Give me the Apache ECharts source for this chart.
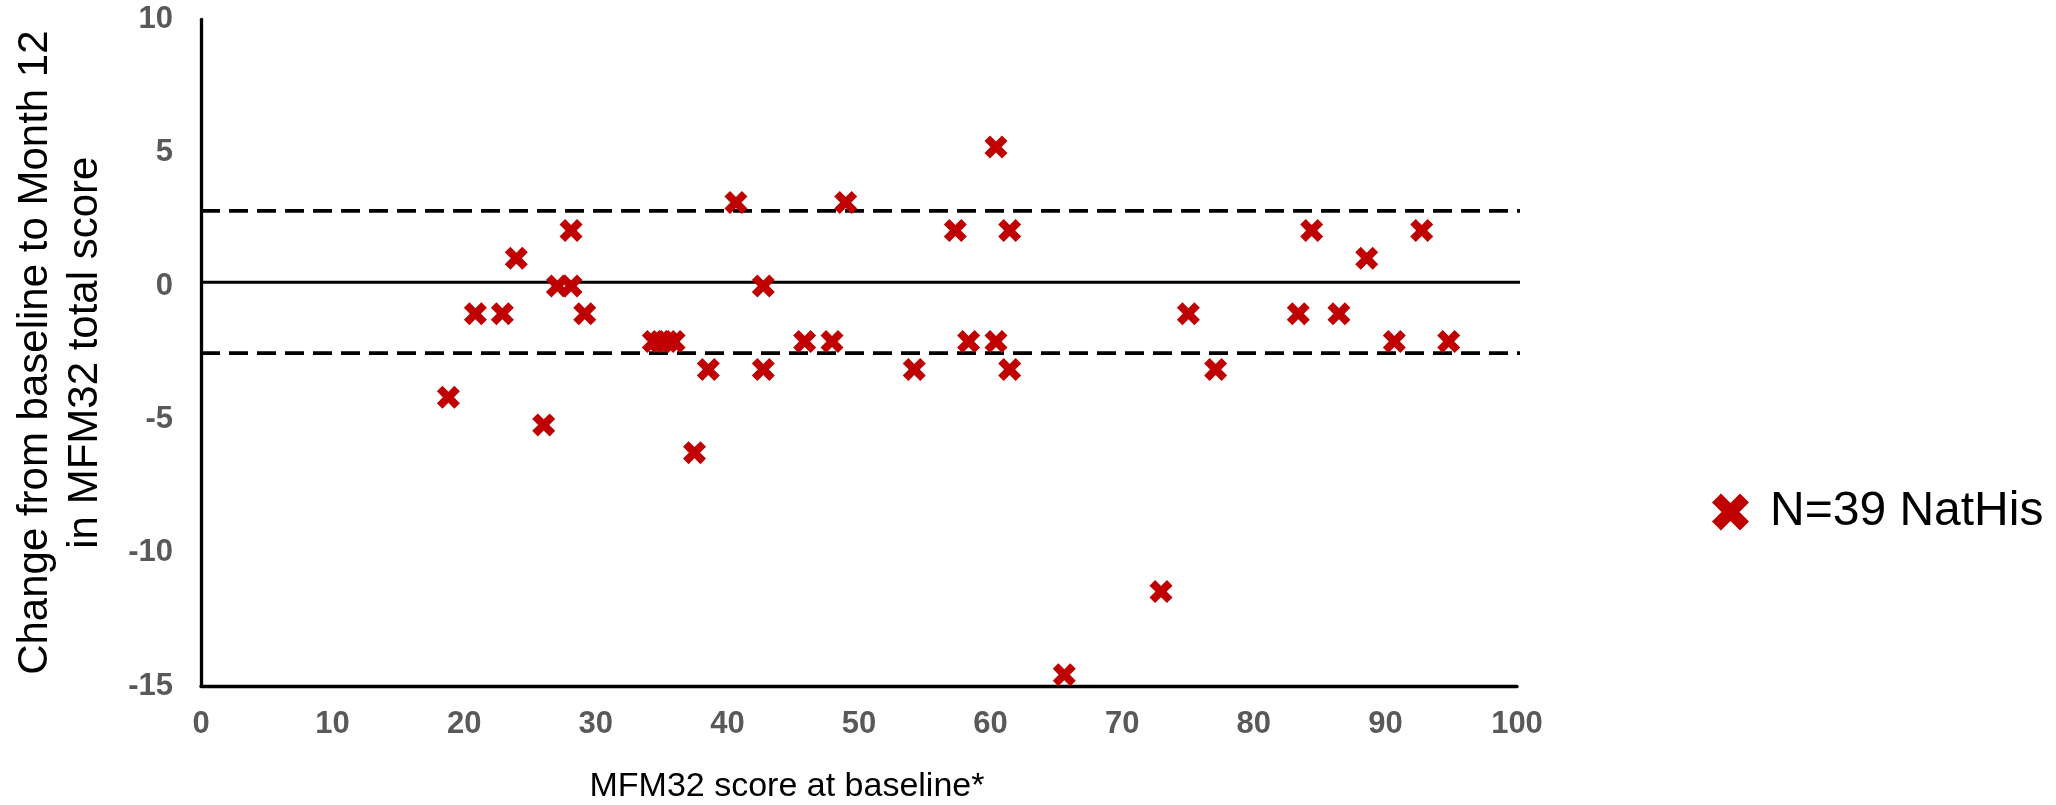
<!DOCTYPE html>
<html>
<head>
<meta charset="utf-8">
<script src="https://cdn.jsdelivr.net/npm/echarts@6/dist/echarts.min.js"></script>
<style>
  html, body { margin: 0; padding: 0; background: #fff; }
  #mfmChart { width: 2056px; height: 805px; }
</style>
</head>
<body>
<div id="mfmChart"></div>
<script>
// data define
var seriesName = 'N=39 NatHis'
var baselineScore = [18.8, 20.85, 22.9, 23.96, 26.04, 27.08, 28.12, 28.12, 29.16,
  34.37, 34.9, 35.43, 35.95, 37.5, 38.55, 40.65, 42.73, 42.73, 45.87, 47.95,
  48.99, 54.2, 57.32, 58.33, 60.41, 60.41, 61.45, 61.45, 65.6, 72.95,
  75.03, 77.1, 83.38, 84.4, 86.47, 88.58, 90.68, 92.76, 94.81]
var changeScore = [-4.17, -1.04, -1.04, 1.04, -5.21, 0, 0, 2.08, -1.04,
  -2.08, -2.08, -2.08, -2.08, -6.25, -3.13, 3.13, 0, -3.13, -2.08, -2.08,
  3.13, -3.13, 2.08, -2.08, 5.21, -2.08, 2.08, -3.13, -14.58, -11.46,
  -1.04, -3.13, -1.04, 2.08, -1.04, 1.04, -2.08, 2.08, -2.08]
var refLevels = [2.82, 0.14, -2.52]
var refLabels = ['+3', '', '-3']
var refSpan = [0, 102.4]
var xTicks = [0, 100, 10]
var yTicks = [-15, 10, 5]

var fontName = '"Liberation Sans", Arial, sans-serif'
var crossIcon = 'path://M0,2.9L2.9,0L6,3.1L9.1,0L12,2.9L8.9,6L12,9.1L9.1,12L6,8.9L2.9,12L0,9.1L3.1,6Z'

// charts locate
var chartElement = document.getElementById('mfmChart')
var mfmChart = echarts.init(chartElement)

// build point list
var points = []
for (var i = 0; i < baselineScore.length; i++) {
  points.push([baselineScore[i], changeScore[i]])
}

// reference lines (+3 / 0 / -3)
var refSeries = refLevels.map(function (lvl, idx) {
  return {
    type: 'line',
    silent: true,
    clip: false,
    symbol: 'none',
    z: 1,
    lineStyle: {
      color: '#000',
      width: idx === 1 ? 3.2 : 3.8,
      type: idx === 1 ? 'solid' : [19, 9]
    },
    data: [
      [refSpan[0], lvl],
      {
        value: [refSpan[1], lvl],
        label: {
          show: refLabels[idx] !== '',
          formatter: refLabels[idx],
          position: 'right',
          distance: 18,
          color: '#000',
          fontSize: 35,
          fontFamily: fontName
        }
      }
    ]
  }
})

var option = {
  animation: false,
  backgroundColor: '#fff',
  grid: {
    left: 201,
    right: 539,
    top: 19.3,
    bottom: 119,
    containLabel: false,
    outerBoundsMode: 'none'
  },
  legend: {
    data: [{ name: seriesName, icon: crossIcon }],
    left: 1707,
    top: 483,
    itemWidth: 37,
    itemHeight: 39,
    selectedMode: false,
    textStyle: {
      fontSize: 48,
      fontFamily: fontName,
      color: '#000',
      padding: [0, 0, 0, 16]
    }
  },
  xAxis: {
    type: 'value',
    min: xTicks[0],
    max: xTicks[1],
    interval: xTicks[2],
    name: 'MFM32 score at baseline*',
    nameLocation: 'middle',
    nameGap: 84,
    nameTextStyle: {
      fontSize: 34,
      fontFamily: fontName,
      color: '#000',
      padding: [0, 144, 0, 0]
    },
    splitLine: { show: false },
    axisTick: { show: false },
    axisLine: { onZero: false, lineStyle: { color: '#000', width: 3.3 } },
    axisLabel: {
      margin: 23,
      fontSize: 31,
      fontWeight: 'bold',
      fontFamily: fontName,
      color: '#595959'
    }
  },
  yAxis: {
    type: 'value',
    min: yTicks[0],
    max: yTicks[1],
    interval: yTicks[2],
    name: 'Change from baseline to Month 12\nin MFM32 total score',
    nameLocation: 'middle',
    nameGap: 91,
    nameTextStyle: {
      fontSize: 42,
      lineHeight: 50,
      fontFamily: fontName,
      color: '#000'
    },
    splitLine: { show: false },
    axisTick: { show: false },
    axisLine: { show: true, onZero: false, lineStyle: { color: '#000', width: 3.3 } },
    axisLabel: {
      margin: 28,
      fontSize: 31,
      fontWeight: 'bold',
      fontFamily: fontName,
      color: '#595959'
    }
  },
  series: refSeries.concat([
    {
      name: seriesName,
      type: 'scatter',
      symbol: crossIcon,
      symbolSize: 23,
      z: 3,
      itemStyle: { color: '#C00000', opacity: 1 },
      data: points
    }
  ])
}

// setting charts option
mfmChart.setOption(option, true)
</script>
</body>
</html>
